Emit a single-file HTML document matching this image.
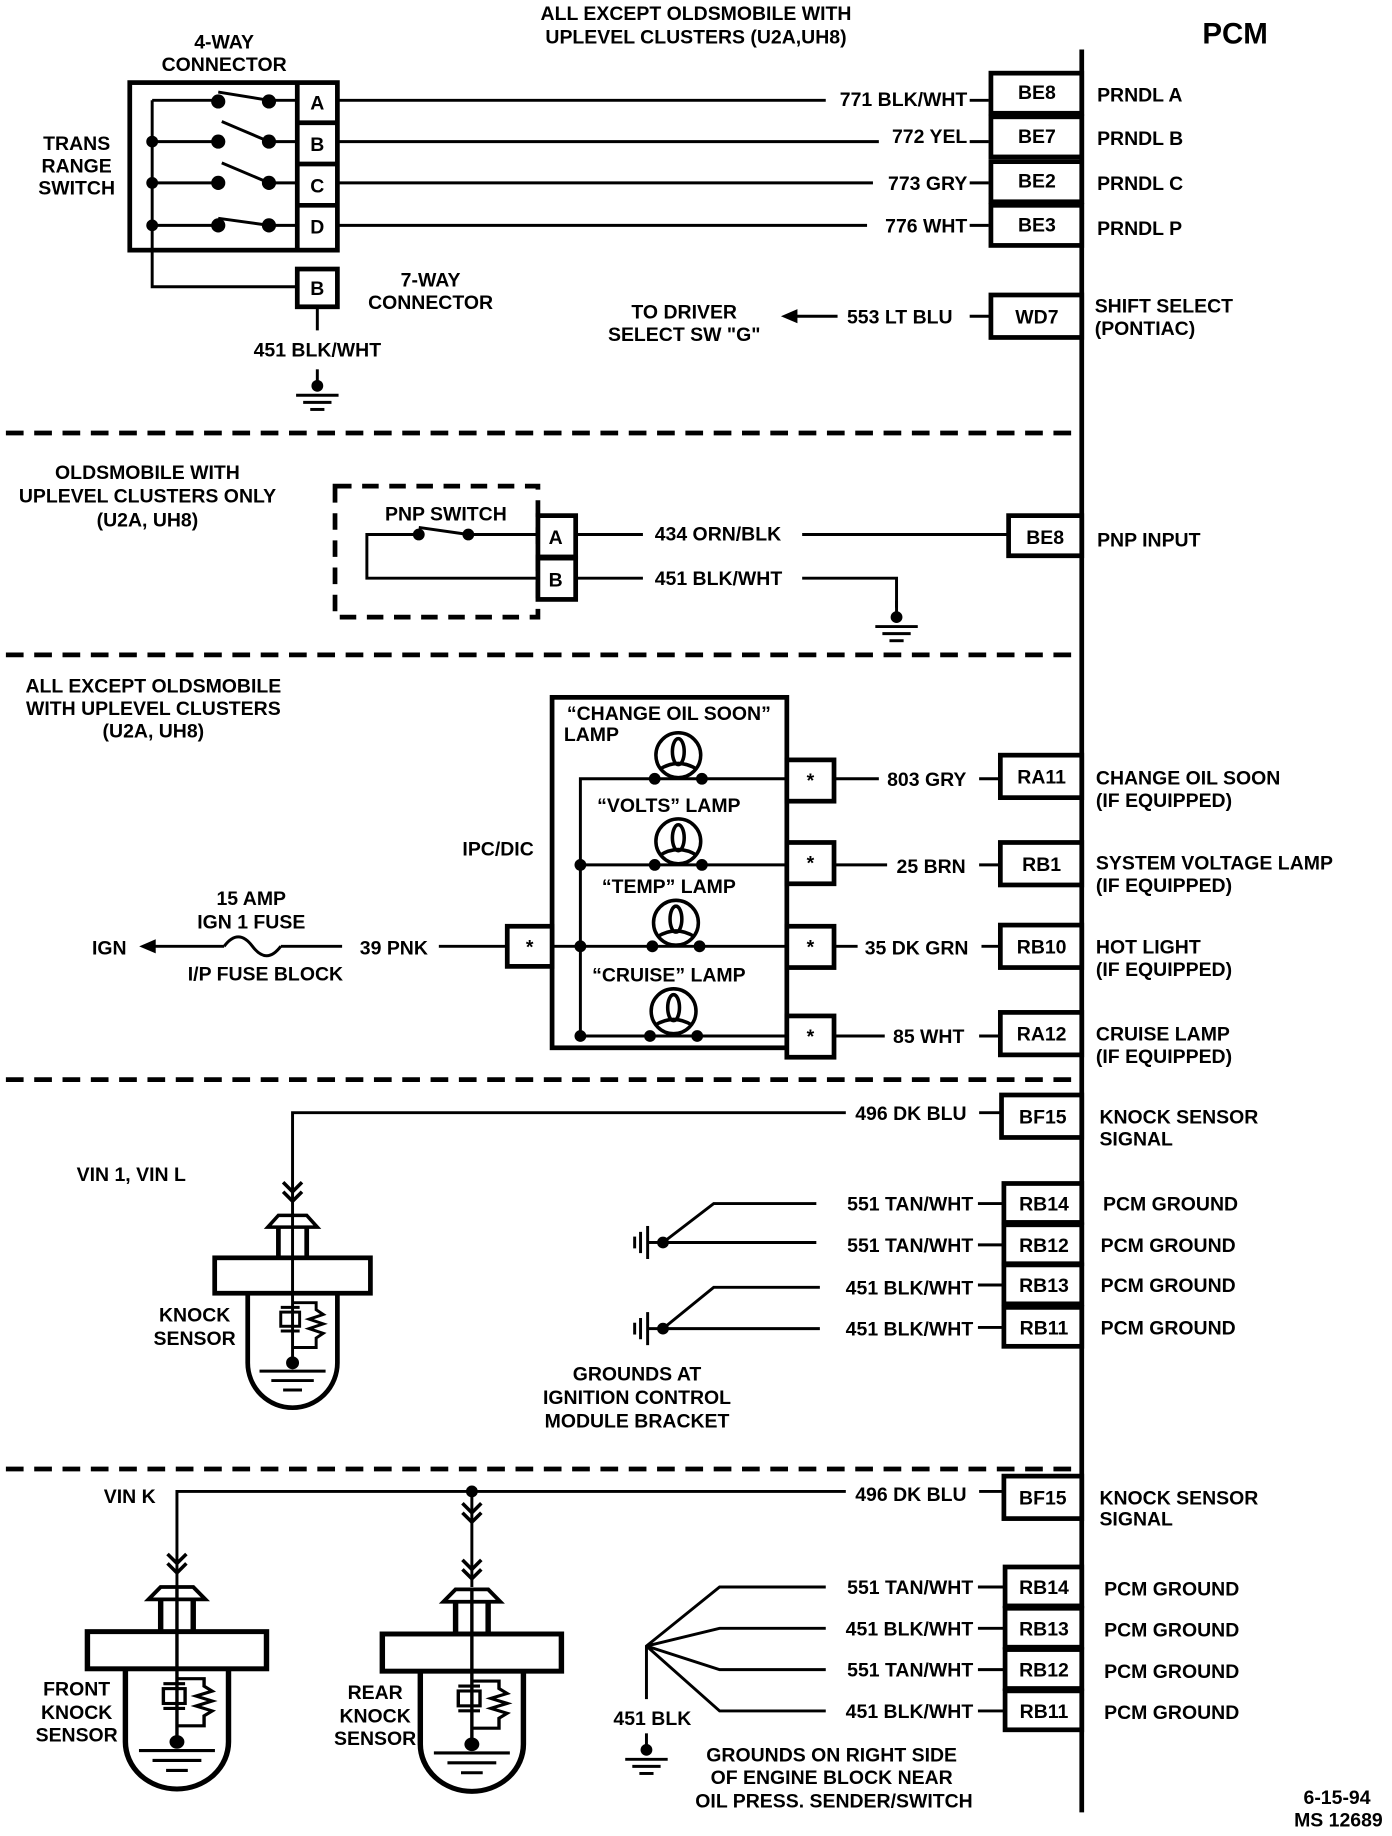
<!DOCTYPE html>
<html><head><meta charset="utf-8"><style>
html,body{margin:0;padding:0;background:#fff;}
svg{display:block;}
text{font-family:"Liberation Sans",sans-serif;font-weight:bold;font-size:16.5px;fill:#000;}
</style></head><body>
<svg width="1392" height="1836" viewBox="0 0 1180 1556" preserveAspectRatio="none" xmlns="http://www.w3.org/2000/svg">
<defs>
<g id="gnd"><circle cx="0" cy="0" r="5"/><line x1="0" y1="-14" x2="0" y2="0" stroke="#000" stroke-width="2.5"/><line x1="-18" y1="8" x2="18" y2="8" stroke="#000" stroke-width="2.5"/><line x1="-12" y1="14" x2="12" y2="14" stroke="#000" stroke-width="2.5"/><line x1="-6" y1="20" x2="6" y2="20" stroke="#000" stroke-width="2.5"/></g>
<g id="sgnd"><circle cx="0" cy="0" r="5"/><line x1="-13" y1="-14" x2="-13" y2="14" stroke="#000" stroke-width="2.5"/><line x1="-19" y1="-9" x2="-19" y2="9" stroke="#000" stroke-width="2.5"/><line x1="-24" y1="-5" x2="-24" y2="5" stroke="#000" stroke-width="2.5"/><line x1="-13" y1="0" x2="0" y2="0" stroke="#000" stroke-width="2.5"/></g>
<path id="chev" d="M-8,-8 L0,0 L8,-8 M-8,0 L0,8 L8,0" fill="none" stroke="#000" stroke-width="3"/>
<g id="sensor" fill="none" stroke="#000">
<polygon points="-12,0 12,0 21,10 -21,10" stroke-width="3"/>
<line x1="-12" y1="10" x2="-12" y2="36" stroke-width="4"/><line x1="12" y1="10" x2="12" y2="36" stroke-width="4"/>
<rect x="-66" y="36" width="132" height="30" stroke-width="4" fill="#fff"/>
<path d="M-38,66 V125 A38,38 0 0 0 38,125 V66" stroke-width="4"/>
<line x1="0" y1="0" x2="0" y2="130" stroke-width="2.5"/>
<rect x="-10" y="82" width="16" height="12" stroke-width="2.5"/>
<line x1="-10" y1="78" x2="6" y2="78" stroke-width="2.5"/><line x1="-10" y1="98" x2="6" y2="98" stroke-width="2.5"/>
<path d="M0,74 H20 V80 L26,84 L14,88 L26,92 L14,96 L26,100 L20,104 V112 H0" stroke-width="2.5"/>
<circle cx="0" cy="125" r="5" fill="#000"/>
<line x1="-28" y1="132" x2="28" y2="132" stroke-width="2.5"/><line x1="-18" y1="140" x2="18" y2="140" stroke-width="2.5"/><line x1="-8" y1="148" x2="8" y2="148" stroke-width="2.5"/>
</g>
<g id="lamp" fill="none" stroke="#000" stroke-width="3"><circle cx="0" cy="0" r="19"/><ellipse cx="0" cy="-3" rx="5" ry="11"/><path d="M-16,12 Q0,2 16,12"/></g>
</defs>

<!-- PCM -->
<line x1="917" y1="42" x2="917" y2="1536" stroke="#000" stroke-width="4"/>
<text x="1047" y="37" text-anchor="middle" style="font-size:25px">PCM</text>

<g stroke="#000" stroke-width="4" stroke-dasharray="15,9">
<line x1="5" y1="367" x2="917" y2="367"/><line x1="5" y1="555" x2="917" y2="555"/>
<line x1="5" y1="915" x2="917" y2="915"/><line x1="5" y1="1245" x2="917" y2="1245"/>
</g>

<g text-anchor="middle">
<text x="590" y="17">ALL EXCEPT OLDSMOBILE WITH</text><text x="590" y="37">UPLEVEL CLUSTERS (U2A,UH8)</text>
<text x="190" y="41">4-WAY</text><text x="190" y="60">CONNECTOR</text>
<text x="65" y="127">TRANS</text><text x="65" y="146">RANGE</text><text x="65" y="165">SWITCH</text>
</g>

<!-- 4-way connector -->
<g stroke="#000" fill="none">
<rect x="110" y="70" width="176" height="142" stroke-width="4"/>
<line x1="252" y1="70" x2="252" y2="212" stroke-width="4"/>
<line x1="252" y1="104" x2="286" y2="104" stroke-width="4"/><line x1="252" y1="139" x2="286" y2="139" stroke-width="4"/><line x1="252" y1="174" x2="286" y2="174" stroke-width="4"/>
<path d="M129,85 V243 H252" stroke-width="2.5"/>
<path d="M129,85 H185 M185,78 L228,85 M228,85 H252" stroke-width="2.5"/>
<path d="M129,120 H185 M188,103 L228,120 M228,120 H252" stroke-width="2.5"/>
<path d="M129,155 H185 M188,138 L228,155 M228,155 H252" stroke-width="2.5"/>
<path d="M129,191 H185 M185,185 L228,191 M228,191 H252" stroke-width="2.5"/>
</g>
<g fill="#000">
<circle cx="129" cy="120" r="5"/><circle cx="129" cy="155" r="5"/><circle cx="129" cy="191" r="5"/>
<circle cx="185" cy="86" r="6"/><circle cx="228" cy="86" r="6"/>
<circle cx="185" cy="120" r="6"/><circle cx="228" cy="120" r="6"/>
<circle cx="185" cy="155" r="6"/><circle cx="228" cy="155" r="6"/>
<circle cx="185" cy="191" r="6"/><circle cx="228" cy="191" r="6"/>
</g>
<g text-anchor="middle"><text x="269" y="93">A</text><text x="269" y="128">B</text><text x="269" y="163">C</text><text x="269" y="198">D</text></g>

<g stroke="#000" stroke-width="2.5">
<line x1="286" y1="85" x2="700" y2="85"/><line x1="822" y1="85" x2="838" y2="85"/>
<line x1="286" y1="120" x2="745" y2="120"/><line x1="822" y1="120" x2="838" y2="120"/>
<line x1="286" y1="155" x2="740" y2="155"/><line x1="822" y1="155" x2="838" y2="155"/>
<line x1="286" y1="191" x2="735" y2="191"/><line x1="822" y1="191" x2="838" y2="191"/>
</g>
<g text-anchor="end"><text x="820" y="90">771 BLK/WHT</text><text x="820" y="121">772 YEL</text><text x="820" y="161">773 GRY</text><text x="820" y="197">776 WHT</text></g>
<g stroke="#000" stroke-width="4" fill="#fff">
<rect x="840" y="62" width="77" height="34"/><rect x="840" y="99" width="77" height="34"/><rect x="840" y="137" width="77" height="34"/><rect x="840" y="174" width="77" height="34"/>
<rect x="840" y="250" width="77" height="36"/>
</g>
<g text-anchor="middle"><text x="879" y="84">BE8</text><text x="879" y="121">BE7</text><text x="879" y="159">BE2</text><text x="879" y="196">BE3</text><text x="879" y="274">WD7</text></g>
<text x="930" y="86">PRNDL A</text><text x="930" y="123">PRNDL B</text><text x="930" y="161">PRNDL C</text><text x="930" y="199">PRNDL P</text>

<rect x="252" y="228" width="34" height="32" fill="#fff" stroke="#000" stroke-width="4"/>
<text x="269" y="250" text-anchor="middle">B</text>
<text x="365" y="243" text-anchor="middle">7-WAY</text><text x="365" y="262" text-anchor="middle">CONNECTOR</text>
<line x1="269" y1="260" x2="269" y2="280" stroke="#000" stroke-width="2.5"/>
<text x="269" y="302" text-anchor="middle">451 BLK/WHT</text>
<use href="#gnd" x="269" y="327"/>

<text x="580" y="270" text-anchor="middle">TO DRIVER</text><text x="580" y="289" text-anchor="middle">SELECT SW "G"</text>
<line x1="670" y1="268" x2="710" y2="268" stroke="#000" stroke-width="2.5"/><path d="M662,268 L676,262 L676,274 Z"/>
<text x="718" y="274">553 LT BLU</text>
<line x1="822" y1="268" x2="840" y2="268" stroke="#000" stroke-width="2.5"/>
<text x="928" y="265">SHIFT SELECT</text><text x="928" y="284">(PONTIAC)</text>

<!-- section 2 -->
<g text-anchor="middle"><text x="125" y="406">OLDSMOBILE WITH</text><text x="125" y="426">UPLEVEL CLUSTERS ONLY</text><text x="125" y="446">(U2A, UH8)</text>
<text x="378" y="441">PNP SWITCH</text></g>
<rect x="284" y="412" width="172" height="111" fill="none" stroke="#000" stroke-width="4" stroke-dasharray="14,9"/>
<g stroke="#000" stroke-width="2.5" fill="none">
<path d="M456,453 H397 M397,453 L355,447 M355,453 H311 V490 H456"/>
<line x1="488" y1="453" x2="545" y2="453"/><line x1="680" y1="453" x2="855" y2="453"/>
<line x1="488" y1="490" x2="545" y2="490"/><path d="M680,490 H760 V515"/>
</g>
<circle cx="355" cy="453" r="5"/><circle cx="397" cy="453" r="5"/>
<g stroke="#000" stroke-width="4" fill="#fff"><rect x="456" y="437" width="32" height="35"/><rect x="456" y="473" width="32" height="35"/><rect x="855" y="437" width="62" height="34"/></g>
<g text-anchor="middle"><text x="471" y="461">A</text><text x="471" y="497">B</text><text x="886" y="461">BE8</text></g>
<text x="555" y="458">434 ORN/BLK</text><text x="555" y="496">451 BLK/WHT</text>
<text x="930" y="463">PNP INPUT</text>
<use href="#gnd" x="760" y="523"/>

<!-- section 3 -->
<g text-anchor="middle"><text x="130" y="587">ALL EXCEPT OLDSMOBILE</text><text x="130" y="606">WITH UPLEVEL CLUSTERS</text><text x="130" y="625">(U2A, UH8)</text>
<text x="213" y="767">15 AMP</text><text x="213" y="787">IGN 1 FUSE</text><text x="225" y="831">I/P FUSE BLOCK</text></g>
<text x="392" y="725">IPC/DIC</text>
<text x="78" y="809">IGN</text>
<path d="M118,802 L132,796 L132,808 Z"/>
<g stroke="#000" stroke-width="2.5" fill="none">
<line x1="130" y1="802" x2="190" y2="802"/>
<path d="M190,802 Q202,786 214,802 Q226,818 238,802"/>
<line x1="238" y1="802" x2="290" y2="802"/>
<line x1="372" y1="802" x2="430" y2="802"/>
</g>
<text x="305" y="809">39 PNK</text>
<rect x="468" y="591" width="199" height="297" fill="none" stroke="#000" stroke-width="4"/>
<g stroke="#000" stroke-width="2.5" fill="none">
<path d="M667,660 H492 V878 H667"/><line x1="492" y1="733" x2="667" y2="733"/><line x1="468" y1="802" x2="667" y2="802"/>
</g>
<g fill="#000"><circle cx="492" cy="733" r="5"/><circle cx="492" cy="802" r="5"/><circle cx="492" cy="878" r="5"/>
<circle cx="555" cy="660" r="5"/><circle cx="595" cy="660" r="5"/>
<circle cx="555" cy="733" r="5"/><circle cx="595" cy="733" r="5"/>
<circle cx="553" cy="802" r="5"/><circle cx="593" cy="802" r="5"/>
<circle cx="551" cy="878" r="5"/><circle cx="591" cy="878" r="5"/></g>
<use href="#lamp" x="575" y="640"/><use href="#lamp" x="575" y="713"/><use href="#lamp" x="573" y="782"/><use href="#lamp" x="571" y="857"/>
<g text-anchor="middle"><text x="567" y="610">“CHANGE OIL SOON”</text><text x="567" y="688">“VOLTS” LAMP</text><text x="567" y="757">“TEMP” LAMP</text><text x="567" y="832">“CRUISE” LAMP</text></g>
<text x="478" y="628">LAMP</text>
<g stroke="#000" stroke-width="4" fill="#fff">
<rect x="430" y="785" width="38" height="34"/>
<rect x="667" y="644" width="40" height="35"/><rect x="667" y="714" width="40" height="35"/><rect x="667" y="785" width="40" height="35"/><rect x="667" y="861" width="40" height="35"/>
<rect x="848" y="640" width="69" height="36"/><rect x="848" y="714" width="69" height="36"/><rect x="848" y="784" width="69" height="36"/><rect x="848" y="858" width="69" height="36"/>
</g>
<g text-anchor="middle"><text x="449" y="808">*</text><text x="687" y="667">*</text><text x="687" y="737">*</text><text x="687" y="808">*</text><text x="687" y="884">*</text>
<text x="883" y="664">RA11</text><text x="883" y="738">RB1</text><text x="883" y="808">RB10</text><text x="883" y="882">RA12</text></g>
<g stroke="#000" stroke-width="2.5">
<line x1="707" y1="660" x2="745" y2="660"/><line x1="830" y1="660" x2="848" y2="660"/>
<line x1="707" y1="733" x2="752" y2="733"/><line x1="830" y1="733" x2="848" y2="733"/>
<line x1="707" y1="802" x2="727" y2="802"/><line x1="832" y1="802" x2="848" y2="802"/>
<line x1="707" y1="878" x2="750" y2="878"/><line x1="830" y1="878" x2="848" y2="878"/>
</g>
<text x="752" y="666">803 GRY</text><text x="760" y="740">25 BRN</text><text x="733" y="809">35 DK GRN</text><text x="757" y="884">85 WHT</text>
<text x="929" y="665">CHANGE OIL SOON</text><text x="929" y="684">(IF EQUIPPED)</text>
<text x="929" y="737">SYSTEM VOLTAGE LAMP</text><text x="929" y="756">(IF EQUIPPED)</text>
<text x="929" y="808">HOT LIGHT</text><text x="929" y="827">(IF EQUIPPED)</text>
<text x="929" y="882">CRUISE LAMP</text><text x="929" y="901">(IF EQUIPPED)</text>

<!-- section 4 -->
<text x="65" y="1001">VIN 1, VIN L</text>
<g stroke="#000" stroke-width="2.5" fill="none"><path d="M717,943 H248 V1030"/><line x1="830" y1="943" x2="849" y2="943"/></g>
<use href="#chev" x="248" y="1010"/>
<use href="#sensor" x="248" y="1030"/>
<text x="165" y="1120" text-anchor="middle">KNOCK</text><text x="165" y="1140" text-anchor="middle">SENSOR</text>
<text x="725" y="949">496 DK BLU</text>
<g stroke="#000" stroke-width="4" fill="#fff">
<rect x="849" y="928" width="68" height="36"/>
<rect x="851" y="1003" width="66" height="33"/><rect x="851" y="1038" width="66" height="33"/><rect x="851" y="1072" width="66" height="33"/><rect x="851" y="1108" width="66" height="33"/>
</g>
<g text-anchor="middle"><text x="884" y="952">BF15</text><text x="885" y="1026">RB14</text><text x="885" y="1061">RB12</text><text x="885" y="1095">RB13</text><text x="885" y="1131">RB11</text></g>
<text x="932" y="952">KNOCK SENSOR</text><text x="932" y="971">SIGNAL</text>
<text x="935" y="1026">PCM GROUND</text><text x="933" y="1061">PCM GROUND</text><text x="933" y="1095">PCM GROUND</text><text x="933" y="1131">PCM GROUND</text>
<g text-anchor="end"><text x="825" y="1026">551 TAN/WHT</text><text x="825" y="1061">551 TAN/WHT</text><text x="825" y="1097">451 BLK/WHT</text><text x="825" y="1132">451 BLK/WHT</text></g>
<g stroke="#000" stroke-width="2.5" fill="none">
<path d="M562,1053 L605,1020 H692 M562,1053 H692"/>
<path d="M562,1126 L605,1091 H695 M562,1126 H695"/>
<line x1="829" y1="1020" x2="851" y2="1020"/><line x1="829" y1="1055" x2="851" y2="1055"/><line x1="829" y1="1089" x2="851" y2="1089"/><line x1="829" y1="1125" x2="851" y2="1125"/>
</g>
<use href="#sgnd" x="562" y="1053"/><use href="#sgnd" x="562" y="1126"/>
<g text-anchor="middle"><text x="540" y="1170">GROUNDS AT</text><text x="540" y="1190">IGNITION CONTROL</text><text x="540" y="1210">MODULE BRACKET</text></g>

<!-- section 5 -->
<text x="88" y="1274">VIN K</text>
<g stroke="#000" stroke-width="2.5" fill="none"><path d="M717,1264 H150 V1345 M400,1264 V1345"/><line x1="830" y1="1264" x2="851" y2="1264"/></g>
<circle cx="400" cy="1264" r="5"/>
<use href="#chev" x="150" y="1325"/><use href="#chev" x="400" y="1282"/><use href="#chev" x="400" y="1330"/>
<g transform="translate(150,1345) scale(1.15,1.05)"><use href="#sensor"/></g>
<g transform="translate(400,1347) scale(1.15,1.05)"><use href="#sensor"/></g>
<g text-anchor="middle"><text x="65" y="1437">FRONT</text><text x="65" y="1457">KNOCK</text><text x="65" y="1476">SENSOR</text>
<text x="318" y="1440">REAR</text><text x="318" y="1460">KNOCK</text><text x="318" y="1479">SENSOR</text></g>
<text x="725" y="1272">496 DK BLU</text>
<g stroke="#000" stroke-width="4" fill="#fff">
<rect x="851" y="1251" width="66" height="36"/>
<rect x="852" y="1328" width="65" height="33"/><rect x="852" y="1363" width="65" height="33"/><rect x="852" y="1398" width="65" height="33"/><rect x="852" y="1433" width="65" height="33"/>
</g>
<g text-anchor="middle"><text x="884" y="1275">BF15</text><text x="885" y="1351">RB14</text><text x="885" y="1386">RB13</text><text x="885" y="1421">RB12</text><text x="885" y="1456">RB11</text></g>
<text x="932" y="1275">KNOCK SENSOR</text><text x="932" y="1293">SIGNAL</text>
<text x="936" y="1352">PCM GROUND</text><text x="936" y="1387">PCM GROUND</text><text x="936" y="1422">PCM GROUND</text><text x="936" y="1457">PCM GROUND</text>
<g text-anchor="end" style="font-size:15.5px"><text x="825" y="1351">551 TAN/WHT</text><text x="825" y="1386">451 BLK/WHT</text><text x="825" y="1421">551 TAN/WHT</text><text x="825" y="1456">451 BLK/WHT</text></g>
<g stroke="#000" stroke-width="2.5" fill="none">
<path d="M548,1440 V1395 L610,1345 H700 M548,1395 L610,1380 H700 M548,1395 L610,1415 H700 M548,1395 L610,1450 H700"/>
<line x1="829" y1="1345" x2="852" y2="1345"/><line x1="829" y1="1380" x2="852" y2="1380"/><line x1="829" y1="1415" x2="852" y2="1415"/><line x1="829" y1="1450" x2="852" y2="1450"/>
</g>
<text x="520" y="1462">451 BLK</text>
<use href="#gnd" x="548" y="1483"/>
<g text-anchor="middle"><text x="705" y="1493">GROUNDS ON RIGHT SIDE</text><text x="705" y="1512">OF ENGINE BLOCK NEAR</text><text x="707" y="1532">OIL PRESS. SENDER/SWITCH</text></g>
<g style="font-size:14px"><text x="1105" y="1529">6-15-94</text><text x="1097" y="1548">MS 12689</text></g>
</svg>
</body></html>
